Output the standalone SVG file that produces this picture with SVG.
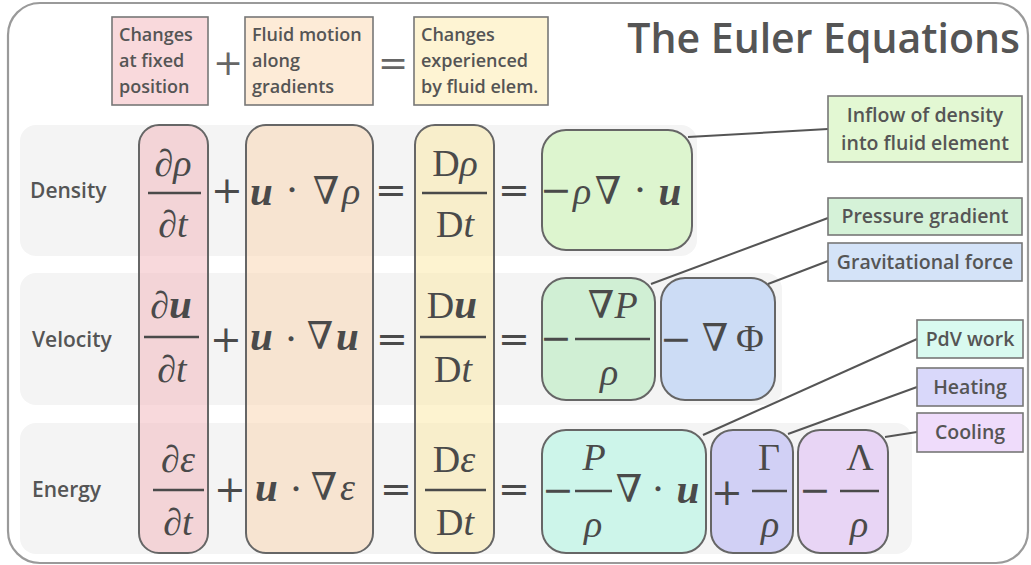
<svg xmlns="http://www.w3.org/2000/svg" width="1031" height="565" viewBox="0 0 1031 565">
<style>
.lbl{font-family:"Open Sans",Lato,"Liberation Sans",sans-serif;font-weight:600;fill:#555;font-size:18px}
.lb2{font-size:19.5px}
.row{font-family:"Open Sans",Lato,"Liberation Sans",sans-serif;font-weight:600;fill:#555;font-size:21px}
.title{font-family:"Open Sans",Lato,"Liberation Sans",sans-serif;font-weight:600;fill:#555;font-size:41px}
.box{stroke:#777;stroke-width:1.6}
.col{stroke:#666;stroke-width:2;fill-opacity:0.5}
.term{stroke:#666;stroke-width:2}
.m{font-family:"Liberation Serif","DejaVu Serif",serif;font-size:38px;fill:#4a4a4a;font-style:italic}
.r{font-style:normal}
.b{font-weight:bold;font-style:italic;font-size:41px}
.op{font-family:"DejaVu Serif","Liberation Serif",serif;font-size:38px;fill:#4a4a4a;text-anchor:middle}
.c{text-anchor:middle}
.bar{stroke:#4a4a4a;stroke-width:2.6}
.conn{stroke:#555;stroke-width:2;fill:none}
.bgrow{fill:#f4f4f4}
</style>
<rect x="8" y="3" width="1020" height="560" rx="32" fill="#fff" stroke="#9a9a9a" stroke-width="2.2"/>
<text class="title" x="1020" y="53" text-anchor="end">The Euler Equations</text>

<g id="header">
<g id="h-fixed"><rect class="box" x="112" y="17" width="96" height="88" fill="#f9d9dc"/>
<text class="lbl" x="119" y="41">Changes</text><text class="lbl" x="119" y="67">at fixed</text><text class="lbl" x="119" y="93">position</text></g>
<text class="op" x="228" y="75" style="font-size:36px;fill:#666">+</text>
<g id="h-motion"><rect class="box" x="245" y="17" width="128" height="88" fill="#fdebd7"/>
<text class="lbl" x="252" y="41">Fluid motion</text><text class="lbl" x="252" y="67">along</text><text class="lbl" x="252" y="93">gradients</text></g>
<text class="op" x="393" y="75" style="font-size:36px;fill:#666">=</text>
<g id="h-exp"><rect class="box" x="414" y="17" width="134" height="88" fill="#fef4d3"/>
<text class="lbl" x="421" y="41">Changes</text><text class="lbl" x="421" y="67">experienced</text><text class="lbl" x="421" y="93">by fluid elem.</text></g>
</g>

<g id="rows">
<rect class="bgrow" x="20" y="125" width="677" height="131" rx="16"/>
<rect class="bgrow" x="20" y="273" width="762" height="132" rx="16"/>
<rect class="bgrow" x="20" y="423" width="892" height="131" rx="16"/>
<text class="row" x="30" y="198">Density</text>
<text class="row" x="32" y="347">Velocity</text>
<text class="row" x="32" y="497">Energy</text>
</g>

<g id="columns">
<rect class="col" x="139" y="125" width="69" height="428" rx="20" fill="#f1b3b9"/>
<rect class="col" x="246" y="125" width="127" height="428" rx="20" fill="#f9d3ad"/>
<rect class="col" x="415" y="125" width="79" height="428" rx="20" fill="#fbe7a1"/>
</g>

<g id="terms">
<rect id="t-div" class="term" x="542" y="130" width="150" height="120" rx="24" fill="#ddf5cf"/>
<rect id="t-press" class="term" x="542" y="278" width="113" height="122" rx="24" fill="#d0efd4"/>
<rect id="t-grav" class="term" x="661" y="278" width="114" height="122" rx="24" fill="#ccdcf5"/>
<rect id="t-pdv" class="term" x="542" y="430" width="164" height="123" rx="24" fill="#cdf5ea"/>
<rect id="t-heat" class="term" x="711" y="430" width="82" height="123" rx="22" fill="#d1d0f5"/>
<rect id="t-cool" class="term" x="798" y="430" width="90" height="123" rx="22" fill="#e8d5f5"/>
</g>

<g id="math-density">
<text class="m c" x="173" y="176"><tspan class="r">∂</tspan>ρ</text>
<line class="bar" x1="148" y1="193" x2="201" y2="193"/>
<text class="m c" x="173" y="237"><tspan class="r">∂</tspan>t</text>
<text class="op" x="227" y="203">+</text>
<text class="m b" x="250" y="205">u</text>
<text class="op" x="292" y="203">⋅</text>
<text class="op" x="326" y="204">∇</text>
<text class="m" x="342" y="204">ρ</text>
<text class="op" x="391" y="203">=</text>
<text class="m c" x="455" y="176"><tspan class="r">D</tspan>ρ</text>
<line class="bar" x1="422" y1="193" x2="487" y2="193"/>
<text class="m c" x="455" y="237"><tspan class="r">D</tspan>t</text>
<text class="op" x="514" y="203">=</text>
<text class="op" x="556" y="203">−</text>
<text class="m c" x="582" y="204">ρ</text>
<text class="op" x="608" y="204">∇</text>
<text class="op" x="640" y="203">⋅</text>
<text class="m b c" x="670" y="205">u</text>
</g>

<g id="math-velocity">
<text class="m c" x="171" y="318"><tspan class="r">∂</tspan><tspan class="b">u</tspan></text>
<line class="bar" x1="144" y1="337" x2="199" y2="337"/>
<text class="m c" x="172" y="382"><tspan class="r">∂</tspan>t</text>
<text class="op" x="226" y="352">+</text>
<text class="m b" x="250" y="350">u</text>
<text class="op" x="291" y="352">⋅</text>
<text class="op" x="320" y="349">∇</text>
<text class="m b" x="336" y="350">u</text>
<text class="op" x="392" y="352">=</text>
<text class="m c" x="452" y="318"><tspan class="r">D</tspan><tspan class="b">u</tspan></text>
<line class="bar" x1="420" y1="337" x2="486" y2="337"/>
<text class="m c" x="453" y="382"><tspan class="r">D</tspan>t</text>
<text class="op" x="514" y="352">=</text>
<text class="op" x="556" y="351">−</text>
<text class="op" x="601" y="318">∇</text>
<text class="m c" x="626" y="318">P</text>
<line class="bar" x1="575" y1="339" x2="650" y2="339"/>
<text class="m c" x="609" y="385">ρ</text>
<text class="op" x="676" y="352">−</text>
<text class="op" x="715" y="351">∇</text>
<text class="m r c" x="750" y="351">Φ</text>
</g>

<g id="math-energy">
<text class="m c" x="178" y="472"><tspan class="r">∂</tspan>ε</text>
<line class="bar" x1="153" y1="490" x2="204" y2="490"/>
<text class="m c" x="178" y="535"><tspan class="r">∂</tspan>t</text>
<text class="op" x="230" y="502">+</text>
<text class="m b" x="255" y="501">u</text>
<text class="op" x="296" y="502">⋅</text>
<text class="op" x="324" y="500">∇</text>
<text class="m" x="340" y="500">ε</text>
<text class="op" x="396" y="502">=</text>
<text class="m c" x="454" y="472"><tspan class="r">D</tspan>ε</text>
<line class="bar" x1="425" y1="490" x2="486" y2="490"/>
<text class="m c" x="455" y="535"><tspan class="r">D</tspan>t</text>
<text class="op" x="514" y="502">=</text>
<text class="op" x="558" y="503">−</text>
<text class="m c" x="594" y="470">P</text>
<line class="bar" x1="575" y1="491" x2="612" y2="491"/>
<text class="m c" x="593" y="537">ρ</text>
<text class="op" x="629" y="502">∇</text>
<text class="op" x="658" y="502">⋅</text>
<text class="m b c" x="688" y="503">u</text>
<text class="op" x="727" y="505">+</text>
<text class="m r c" x="769" y="470">Γ</text>
<line class="bar" x1="752" y1="491" x2="787" y2="491"/>
<text class="m c" x="770" y="537">ρ</text>
<text class="op" x="815" y="503">−</text>
<text class="m r c" x="860" y="470">Λ</text>
<line class="bar" x1="840" y1="491" x2="879" y2="491"/>
<text class="m c" x="859" y="537">ρ</text>
</g>

<g id="connectors">
<line class="conn" x1="688" y1="137" x2="828" y2="129"/>
<line class="conn" x1="651" y1="284" x2="828" y2="218"/>
<line class="conn" x1="768" y1="284" x2="828" y2="261"/>
<line class="conn" x1="703" y1="435" x2="917" y2="339"/>
<line class="conn" x1="788" y1="434" x2="917" y2="387"/>
<line class="conn" x1="885" y1="437" x2="917" y2="432"/>
</g>

<g id="labels">
<g id="l-inflow"><rect class="box" x="828" y="96" width="194" height="66" fill="#e3f8d3"/>
<text class="lbl lb2 c" x="925" y="122">Inflow of density</text><text class="lbl lb2 c" x="925" y="150">into fluid element</text></g>
<g id="l-press"><rect class="box" x="828" y="198" width="194" height="37" fill="#d5f2d8"/>
<text class="lbl lb2 c" x="925" y="223">Pressure gradient</text></g>
<g id="l-grav"><rect class="box" x="828" y="243" width="194" height="38" fill="#d4e3f8"/>
<text class="lbl lb2 c" x="925" y="269">Gravitational force</text></g>
<g id="l-pdv"><rect class="box" x="917" y="320" width="106" height="38" fill="#d9faf0"/>
<text class="lbl lb2 c" x="970" y="346">PdV work</text></g>
<g id="l-heat"><rect class="box" x="917" y="368" width="106" height="38" fill="#d9d8fa"/>
<text class="lbl lb2 c" x="970" y="394">Heating</text></g>
<g id="l-cool"><rect class="box" x="917" y="413" width="106" height="39" fill="#efdcfb"/>
<text class="lbl lb2 c" x="970" y="439">Cooling</text></g>
</g>
</svg>
